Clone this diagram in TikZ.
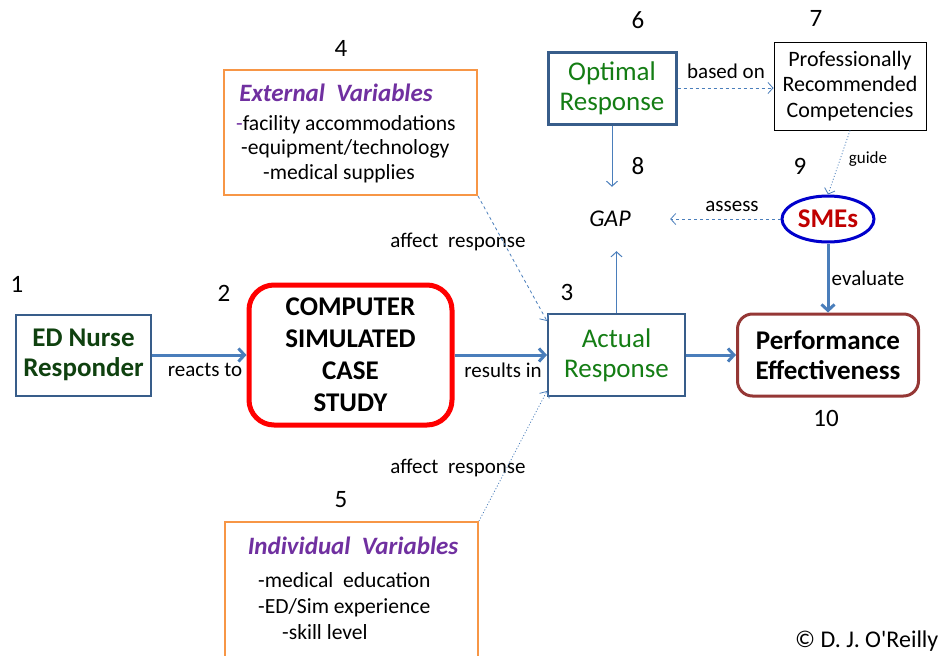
\documentclass[tikz,border=0pt]{standalone}
\usepackage{fontspec}
\setmainfont{Carlito}
\usetikzlibrary{positioning}
\usetikzlibrary{arrows.meta, shapes.geometric}

\definecolor{lineblue}{RGB}{74,126,187}
\definecolor{boxblue}{RGB}{56,93,138}
\definecolor{nursegreen}{RGB}{15,65,15}
\definecolor{respgreen}{RGB}{20,125,20}
\definecolor{varorange}{RGB}{247,150,70}
\definecolor{varpurple}{RGB}{112,48,160}
\definecolor{perfred}{RGB}{149,55,53}
\definecolor{smered}{RGB}{192,0,0}
\definecolor{smeblue}{RGB}{0,0,204}

\tikzset{
  num/.style={font=\fontsize{25}{28}\selectfont},
  lbl/.style={font=\fontsize{21}{24}\selectfont},
  bigtxt/.style={font=\fontsize{27}{30}\selectfont, align=center},
  varbox/.style={draw=varorange, line width=2pt},
  bluebox/.style={draw=boxblue, line width=2pt},
  thickarr/.style={lineblue, line width=3pt, -{Straight Barb[length=6pt,width=13pt]}},
  thinarr/.style={lineblue, line width=1pt, -{Straight Barb[length=5pt,width=11pt]}},
}

\begin{document}
\begin{tikzpicture}[x=1pt,y=-1pt]
\useasboundingbox (0,0) rectangle (951,656);

% numbers
\node[num] (n1) at (17,284) {1};
\node[num] (n2) at (224,293) {2};
\node[num] (n3) at (567,292) {3};
\node[num] (n4) at (341,48) {4};
\node[num] (n5) at (341,500) {5};
\node[num] (n6) at (638,20) {6};
\node[num] (n7) at (816,18) {7};
\node[num] (n8) at (638,166) {8};
\node[num] (n9) at (800,166) {9};
\node[num] (n10) at (826,418) {10};

% main row
\node[bluebox, minimum width=135, minimum height=81, bigtxt, text=nursegreen] (nurse) at (83.5,355) {\textbf{ED Nurse}\\\textbf{Responder}};
\node[draw=red, line width=5pt, rounded corners=25pt, minimum width=203, minimum height=140,
  font=\fontsize{27}{32}\selectfont\bfseries, align=center] (sim) at (350.5,355) {COMPUTER\\SIMULATED\\CASE\\STUDY};
\node[bluebox, minimum width=137, minimum height=82, bigtxt, text=respgreen] (actual) at (616.5,355) {Actual\\Response};
\node[draw=perfred, line width=3pt, rounded corners=15pt, minimum width=181, minimum height=82,
  bigtxt, font=\fontsize{27}{30}\selectfont\bfseries] (perf) at (828,355) {Performance\\Effectiveness};

% upper right
\node[draw=boxblue, line width=3pt, minimum width=128, minimum height=72, bigtxt, text=respgreen] (opt) at (612,88) {Optimal\\Response};
\node[draw=black, line width=1pt, minimum width=152, minimum height=88, align=center,
  font=\fontsize{22}{25.5}\selectfont] (prof) at (850,86) {Professionally\\Recommended\\Competencies};
\node[draw=smeblue, line width=3pt, ellipse, minimum width=92, minimum height=46, inner sep=0pt,
  text=smered, font=\fontsize{27}{30}\selectfont\bfseries] (sme) at (828,219) {SMEs};
\node[minimum width=120, minimum height=64, font=\fontsize{24}{26}\selectfont\itshape] (gap) at (610,219) {GAP};

% variables
\node[varbox, minimum width=253, minimum height=125] (ext) at (350.5,132.5) {};
\node[font=\fontsize{25}{28}\selectfont\bfseries\itshape, text=varpurple] (exttitle) at (336,93) {External\ \ Variables};
\node[font=\fontsize{21.6}{25}\selectfont, align=left, anchor=north west, inner sep=0pt] (extlist) at (236,114.8)
  {\textcolor{varpurple}{-}facility accommodations\\\hspace*{5pt}-equipment/technology\\\hspace*{27pt}-medical supplies};

\node[varbox, minimum width=253, minimum height=150, anchor=north west] (indiv) at (224,521) {};
\node[font=\fontsize{25}{28}\selectfont\bfseries\itshape, text=varpurple] (indtitle) at (353,546) {Individual\ \ Variables};
\node[font=\fontsize{21.6}{26}\selectfont, align=left, anchor=north west, inner sep=0pt] (indlist) at (258,571.8)
  {-medical\ \ education\\-ED/Sim experience\\\hspace*{24pt}-skill level};

% labels
\node[lbl] (reacts) at (205,370) {reacts to};
\node[lbl] (results) at (503,370) {results in};
\node[lbl] (based) at (726,71) {based on};
\node[font=\fontsize{17}{19}\selectfont] (guide) at (868,159) {guide};
\node[lbl] (assess) at (732,206) {assess};
\node[lbl] (evaluate) at (868,278) {evaluate};
\node[lbl] (aff1) at (458,242) {affect\ \ response};
\node[lbl] (aff2) at (458,468) {affect\ \ response};
\node[font=\fontsize{24}{27}\selectfont, anchor=west, inner sep=0pt] (copy) at (795,641) {© D. J. O\textquotesingle Reilly};

% connectors
\draw[thickarr] (nurse) -- (sim);
\draw[thickarr] (sim) -- (actual);
\draw[thickarr] (actual) -- (perf);
\draw[thickarr] (sme) -- (perf);
\draw[thinarr] (opt.south) -- (opt.south |- gap.north);
\draw[thinarr] (actual.north) -- (actual.north |- gap.south);
\draw[thinarr, dashed, line width=0.8pt] (sme) -- (gap);
\draw[thinarr, dashed, line width=0.8pt] (opt.east) -- (opt.east -| prof.west);
\draw[thinarr, dotted, line width=0.8pt] (prof.south) -- (sme.north);
\draw[thinarr, dashed, line width=0.8pt] (ext.south east) -- ([yshift=-8pt]actual.north west);
\draw[thinarr, dotted, line width=0.8pt] (indiv.north east) -- ([yshift=6pt]actual.south west);

\end{tikzpicture}
\end{document}
